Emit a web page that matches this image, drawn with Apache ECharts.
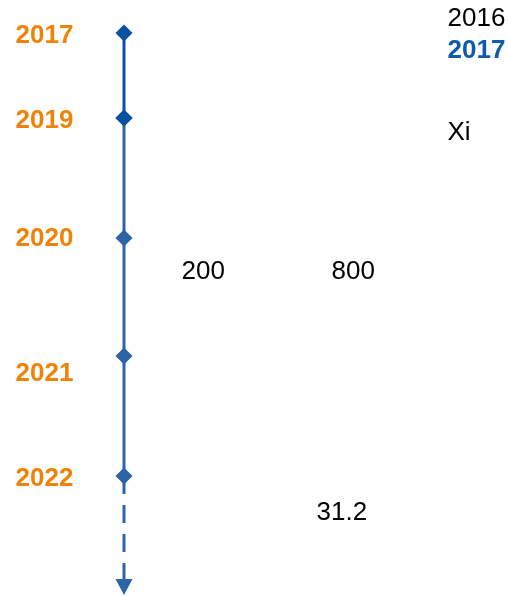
<!DOCTYPE html>
<html>
<head>
<meta charset="utf-8">
<script src="https://cdn.jsdelivr.net/npm/echarts@6/dist/echarts.min.js"></script>
<style>
html, body { margin: 0; padding: 0; background: #fff; }
#main { width: 508px; height: 596px; }
</style>
</head>
<body>
<div id="main"></div>
<script>
// timeline milestones (positions along the vertical axis)
var years = ["2017", "2019", "2020", "2021", "2022"];
var stopPos = [33, 118, 238, 356, 476];
var yearLabelPos = [34, 119, 237, 372, 477];
var arrowTip = 595;

// loose text in the drawing
var noteTexts = ["200", "800", "31.2"];
var noteX = [181, 331, 316];
var noteY = [270, 270, 511];
var sideTexts = ["2016", "2017", "Xi"];
var sideY = [17, 49, 131];

var lineX = 124, yearX = 15, sideX = 447;
var font = "'Liberation Sans', Arial, sans-serif";
var darkBlue = "#0b4fa3", blue = "#2e64a7", orange = "#f08208";

function textSeries(name, xs, ys, texts, styleFn) {
    return {
        name: name,
        type: "scatter",
        symbol: "circle",
        symbolSize: 1,
        itemStyle: { color: "#fff", opacity: 1 },
        silent: true,
        emphasis: { disabled: true },
        data: texts.map(function (t, i) {
            var s = styleFn ? styleFn(i) : {};
            return {
                value: [xs[i], ys[i]],
                label: {
                    show: true,
                    position: "right",
                    distance: 0,
                    offset: [0, 2],
                    formatter: t,
                    fontFamily: font,
                    fontSize: 26,
                    fontWeight: s.fontWeight || "normal",
                    color: s.color || "#000",
                    opacity: 1,
                    textBorderWidth: 0
                }
            };
        })
    };
}

var chart = echarts.init(document.getElementById("main"));
var option = {
    animation: false,
    backgroundColor: "#fff",
    grid: { left: 0, right: 0, top: 0, bottom: 0 },
    xAxis: { type: "value", min: 0, max: 508, show: false },
    yAxis: { type: "value", min: 0, max: 596, inverse: true, show: false },
    series: [
        {
            name: "top",
            type: "line",
            symbol: "diamond",
            symbolSize: 17,
            lineStyle: { color: darkBlue, width: 3 },
            itemStyle: { color: darkBlue },
            z: 3,
            data: stopPos.slice(0, 2).map(function (p) { return [lineX, p]; })
        },
        {
            name: "rest",
            type: "line",
            symbol: "diamond",
            symbolSize: 17,
            lineStyle: { color: blue, width: 3 },
            itemStyle: { color: blue },
            z: 2,
            data: stopPos.slice(1).map(function (p, i) {
                var d = { value: [lineX, p] };
                if (i === 0) d.itemStyle = { color: darkBlue };
                return d;
            })
        },
        {
            name: "future",
            type: "line",
            lineStyle: { color: blue, width: 3, type: [18, 11] },
            itemStyle: { color: blue },
            z: 1,
            data: [
                { value: [lineX, stopPos[stopPos.length - 1]], symbol: "none" },
                { value: [lineX, arrowTip - 8], symbol: "triangle", symbolSize: [17, 16], symbolRotate: 180 }
            ]
        },
        textSeries("years", years.map(function () { return yearX; }), yearLabelPos, years, function () {
            return { color: orange, fontWeight: "bold" };
        }),
        textSeries("notes", noteX, noteY, noteTexts),
        textSeries("side", sideTexts.map(function () { return sideX; }), sideY, sideTexts, function (i) {
            return i === 1 ? { color: "#0f5aad", fontWeight: "bold" } : {};
        })
    ]
};
chart.setOption(option);

window.onresize = function () {
    chart.resize();
};
</script>
</body>
</html>
